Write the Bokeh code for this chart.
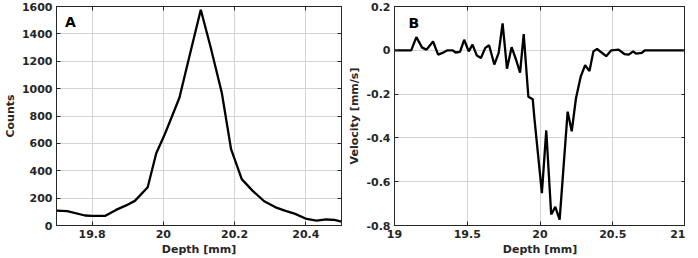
from bokeh.plotting import figure
from bokeh.layouts import row
from bokeh.models import FixedTicker, LinearAxis, Range1d, CustomLabelingPolicy
from bokeh.core.properties import value
from bokeh.embed import file_html
from bokeh.resources import INLINE

# Panel A data
depth_a = [19.70, 19.73, 19.78, 19.80, 19.836, 19.867, 19.894, 19.92, 19.956, 19.98,
           20.002, 20.017, 20.045, 20.072, 20.105, 20.132, 20.164, 20.19, 20.22, 20.25,
           20.283, 20.315, 20.343, 20.37, 20.402, 20.43, 20.457, 20.48, 20.50]
counts_a = [109, 105, 73, 70, 70, 114, 145, 180, 279, 528,
            655, 751, 933, 1224, 1576, 1309, 970, 558, 339, 255,
            177, 133, 107, 85, 48, 36, 44, 41, 29]
xticks_a = [19.8, 20.0, 20.2, 20.4]
xlabels_a = ["19.8", "20", "20.2", "20.4"]
yticks_a = [0, 200, 400, 600, 800, 1000, 1200, 1400, 1600]
ylabels_a = [str(t) for t in yticks_a]

# Panel B data
depth_b = [19.0, 19.115, 19.15, 19.19, 19.22, 19.265, 19.30, 19.33, 19.364, 19.40,
           19.42, 19.45, 19.479, 19.51, 19.536, 19.566, 19.594, 19.624, 19.65, 19.686,
           19.716, 19.743, 19.773, 19.805, 19.835, 19.863, 19.888, 19.92, 19.95, 19.962,
           20.013, 20.043, 20.077, 20.105, 20.135, 20.19, 20.218, 20.247, 20.28, 20.31,
           20.34, 20.367, 20.392, 20.455, 20.49, 20.54, 20.58, 20.61, 20.64, 20.66,
           20.70, 20.72, 21.0]
vel_b = [0, 0, 0.060, 0.012, 0.003, 0.040, -0.020, -0.012, 0.0, 0.0,
         -0.010, -0.007, 0.048, -0.005, 0.026, -0.024, -0.035, 0.011, 0.023, -0.065,
         -0.012, 0.123, -0.084, 0.014, -0.042, -0.102, 0.074, -0.212, -0.223, -0.313,
         -0.652, -0.366, -0.75, -0.715, -0.773, -0.28, -0.37, -0.22, -0.12, -0.068,
         -0.095, -0.005, 0.006, -0.027, 0, 0.003, -0.017, -0.02, -0.005, -0.015,
         -0.012, 0, 0]
xticks_b = [19.0, 19.5, 20.0, 20.5, 21.0]
xlabels_b = ["19", "19.5", "20", "20.5", "21"]
yticks_b = [-0.8, -0.6, -0.4, -0.2, 0.0, 0.2]
ylabels_b = ["-0.8", "-0.6", "-0.4", "-0.2", "0", "0.2"]

FONT = "DejaVu Sans"
TXT = "#262626"

NO_LABELS = CustomLabelingPolicy(code="""
try {
  const n = indices.size;
  for (let i = 0; i < n; i++) { indices.unset(i) }
} catch (e) {}
return indices;
""")


def style_axis(ax, ticks, labels, show_labels=True):
    ax.ticker = FixedTicker(ticks=ticks)
    ax.major_tick_in = 4
    ax.major_tick_out = 0
    ax.minor_tick_in = 0
    ax.minor_tick_out = 0
    ax.axis_line_color = TXT
    ax.major_tick_line_color = TXT
    ax.major_label_text_font = FONT
    ax.major_label_text_font_style = "bold"
    ax.major_label_text_color = TXT
    if show_labels:
        ax.major_label_overrides = {t: l for t, l in zip(ticks, labels)}
        ax.major_label_text_font_size = "11px"
        ax.major_label_standoff = 4
    else:
        ax.major_label_text_font_size = "0px"
        ax.major_label_standoff = 0
        ax.major_label_policy = NO_LABELS
    ax.axis_label_text_font = FONT
    ax.axis_label_text_font_style = "bold"
    ax.axis_label_text_font_size = "11px"
    ax.axis_label_text_color = TXT
    ax.axis_label_standoff = 2


def make_panel(x, y, xr, yr, xt, xl, yt, yl, ylabel, letter, lx, ly,
               width, height, border_left, border_right):
    p = figure(width=width, height=height, output_backend="svg",
               toolbar_location=None, x_range=Range1d(*xr), y_range=Range1d(*yr),
               min_border_left=border_left, min_border_right=border_right,
               min_border_top=6, min_border_bottom=4)
    p.line(x, y, line_color="black", line_width=2.3)
    p.text(x=[lx], y=[ly], text=[letter], text_font=value(FONT),
           text_font_style="bold", text_font_size="14px", text_color="black",
           text_align="left", text_baseline="top")
    style_axis(p.xaxis[0], xt, xl)
    style_axis(p.yaxis[0], yt, yl)
    p.xaxis[0].axis_label = "Depth [mm]"
    p.yaxis[0].axis_label = ylabel
    top = LinearAxis()
    style_axis(top, xt, xl, show_labels=False)
    p.add_layout(top, "above")
    right = LinearAxis()
    style_axis(right, yt, yl, show_labels=False)
    p.add_layout(right, "right")
    p.xgrid.ticker = FixedTicker(ticks=xt)
    p.ygrid.ticker = FixedTicker(ticks=yt)
    p.xgrid.grid_line_color = "#d4d4d4"
    p.ygrid.grid_line_color = "#d4d4d4"
    p.outline_line_color = TXT
    p.outline_line_width = 1
    p.background_fill_color = "white"
    p.border_fill_color = "white"
    return p


pa = make_panel(depth_a, counts_a, (19.7, 20.5), (0, 1600), xticks_a, xlabels_a,
                yticks_a, ylabels_a, "Counts", "A", 19.724, 1545,
                width=345, height=258, border_left=44, border_right=4)
pb = make_panel(depth_b, vel_b, (19.0, 21.0), (-0.8, 0.2), xticks_b, xlabels_b,
                yticks_b, ylabels_b, "Velocity [mm/s]", "B", 19.097, 0.163,
                width=340, height=258, border_left=40, border_right=0)

layout = row(pa, pb)
open("out.html", "w").write(file_html(layout, INLINE))
